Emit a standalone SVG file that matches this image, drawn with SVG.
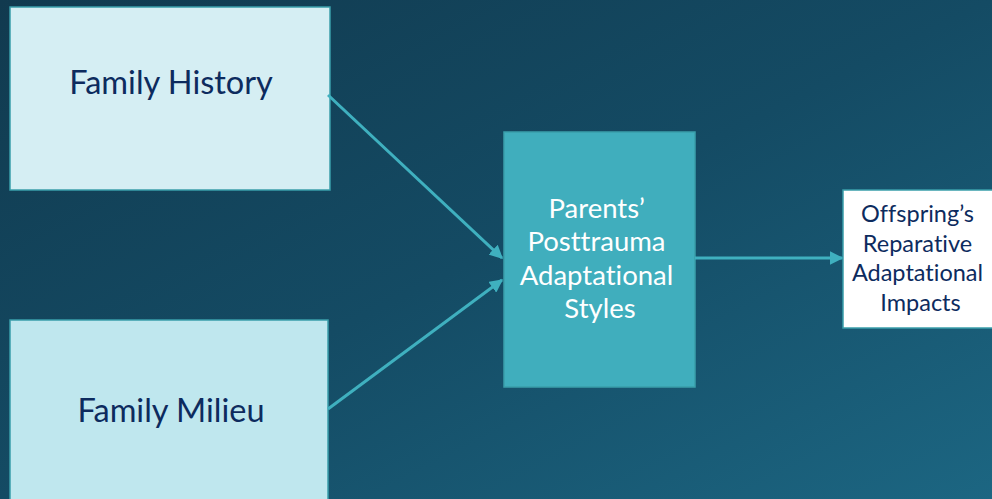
<svg xmlns="http://www.w3.org/2000/svg" width="992" height="499" viewBox="0 0 992 499">
  <defs>
    <linearGradient id="bg" x1="0" y1="0" x2="1" y2="1">
      <stop offset="0" stop-color="#113a4f"/>
      <stop offset="0.5" stop-color="#144b64"/>
      <stop offset="1" stop-color="#1c6682"/>
    </linearGradient>
    <marker id="arrow" viewBox="0 0 10 10" refX="9" refY="5" markerWidth="4.5" markerHeight="4.5" orient="auto" markerUnits="strokeWidth">
      <path d="M0,0 L10,5 L0,10 z" fill="#3fb0bf"/>
    </marker>
    <style>
      .box { stroke: #3a9eaa; stroke-width: 1.5; }
      text { font-family: Lato, "Open Sans", sans-serif; text-anchor: middle; font-variant-ligatures: none; }
      .dark { fill: #0d2b5e; }
      .light { fill: #ffffff; }
      .conn { stroke: #3fb0bf; stroke-width: 3; fill: none; }
    </style>
  </defs>

  <rect width="992" height="499" fill="url(#bg)"/>

  <g id="family-history">
    <rect class="box" x="10" y="7" width="320" height="183" fill="#d5eef3"/>
    <text class="dark" x="171" y="94" font-size="32.5">Family History</text>
  </g>

  <g id="family-milieu">
    <rect class="box" x="10" y="320" width="318" height="185" fill="#bfe7ee"/>
    <text class="dark" x="171" y="422" font-size="32.5">Family Milieu</text>
  </g>

  <g id="parents-styles">
    <rect class="box" x="504" y="132" width="191" height="255" fill="#40aebd"/>
    <text class="light" font-size="27.5">
      <tspan x="600" y="218">Parents’</tspan>
      <tspan x="600" y="251">Posttrauma</tspan>
      <tspan x="600" y="285">Adaptational</tspan>
      <tspan x="600" y="318">Styles</tspan>
    </text>
  </g>

  <g id="offspring-impacts">
    <rect class="box" x="843" y="190" width="155" height="138" fill="#ffffff"/>
    <text class="dark" font-size="23.5">
      <tspan x="920.5" y="222">Offspring’s</tspan>
      <tspan x="920.5" y="252">Reparative</tspan>
      <tspan x="920.5" y="281">Adaptational</tspan>
      <tspan x="920.5" y="311">Impacts</tspan>
    </text>
  </g>

  <g id="connectors">
    <line class="conn" x1="328" y1="95" x2="502" y2="258" marker-end="url(#arrow)"/>
    <line class="conn" x1="328" y1="409" x2="502" y2="280" marker-end="url(#arrow)"/>
    <line class="conn" x1="695" y1="258" x2="842" y2="258" marker-end="url(#arrow)"/>
  </g>
</svg>
